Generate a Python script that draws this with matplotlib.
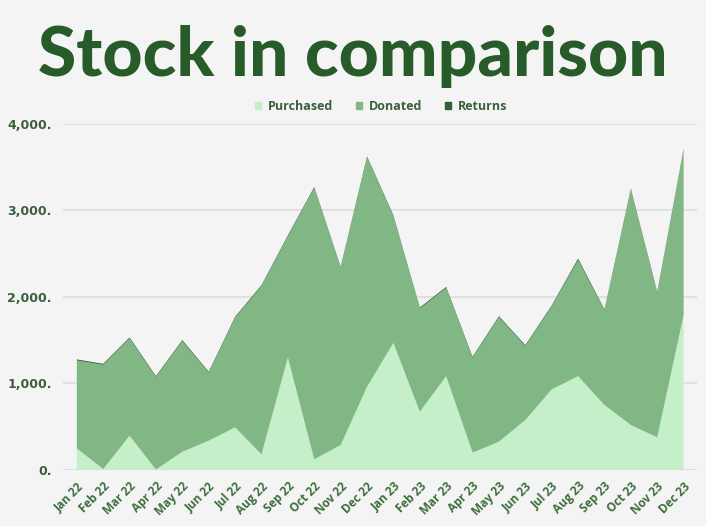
import matplotlib
matplotlib.use("Agg")
import matplotlib.pyplot as plt
from matplotlib.ticker import FuncFormatter
from matplotlib.patches import Patch

# Data
months = ["Jan 22", "Feb 22", "Mar 22", "Apr 22", "May 22", "Jun 22", "Jul 22", "Aug 22",
          "Sep 22", "Oct 22", "Nov 22", "Dec 22", "Jan 23", "Feb 23", "Mar 23", "Apr 23",
          "May 23", "Jun 23", "Jul 23", "Aug 23", "Sep 23", "Oct 23", "Nov 23", "Dec 23"]
totals = [1277, 1226, 1530, 1084, 1500, 1134, 1769, 2134, 2710, 3268, 2345, 3622,
          2941, 1876, 2114, 1307, 1776, 1442, 1900, 2441, 1853, 3249, 2057, 3710]
purchased = [250, 10, 396, 5, 211, 338, 492, 181, 1300, 123, 288, 961,
             1468, 673, 1084, 200, 327, 577, 930, 1084, 750, 519, 377, 1788]
returns = [12, 12, 12, 12, 12, 12, 12, 12, 12, 12, 12, 12,
           12, 12, 12, 12, 12, 12, 12, 18, 12, 12, 12, 12]
donated = [t - p - r for t, p, r in zip(totals, purchased, returns)]

bg = "#f4f4f4"
dark = "#275c2a"
c_purch = "#c5efc8"
c_don = "#80b784"
c_ret = "#2f6234"

fig = plt.figure(figsize=(7.06, 5.26), dpi=100, facecolor=bg)
ax = fig.add_axes([0.089, 0.1065, 0.898, 0.6585], facecolor=bg)

x = list(range(len(months)))
ax.stackplot(x, purchased, donated, returns, colors=[c_purch, c_don, c_ret],
             linewidth=0)

ax.set_xlim(-0.53, 23.5)
ax.set_ylim(0, 4000)
ax.set_yticks([0, 1000, 2000, 3000, 4000])
ax.yaxis.set_major_formatter(FuncFormatter(lambda v, p: f"{int(v):,}."))
ax.grid(axis="y", color="#dcdcdc", linewidth=1.2)
ax.set_axisbelow(True)
for s in ax.spines.values():
    s.set_visible(False)
ax.tick_params(length=0)
ax.tick_params(axis="y", pad=8)
for lab in ax.get_yticklabels():
    lab.set_fontweight("bold")
    lab.set_color("#3c5e3c")
    lab.set_fontsize(9)

ax.set_xticks(x)
ax.set_xticklabels(months, rotation=45, ha="right", rotation_mode="anchor",
                   fontsize=8.5, fontweight="bold", color="#3f6e3f",
                   family="Open Sans")
ax.tick_params(axis="x", pad=7)

fig.text(0.5, 0.893, "Stock in comparison", ha="center", va="center",
         fontsize=50, fontweight="black", color=dark, family="Lato")

handles = [Patch(color=c_purch), Patch(color=c_don), Patch(color=c_ret)]
fig.legend(handles, ["Purchased", "Donated", "Returns"], loc="center",
           bbox_to_anchor=(0.54, 0.798), ncol=3, frameon=False,
           handlelength=0.45, handleheight=0.45, handletextpad=0.6, columnspacing=1.8,
           prop={"weight": "bold", "size": 9, "family": "Open Sans"},
           labelcolor="#3c5e3c")

fig.savefig("out.png", dpi=100, facecolor=bg)
